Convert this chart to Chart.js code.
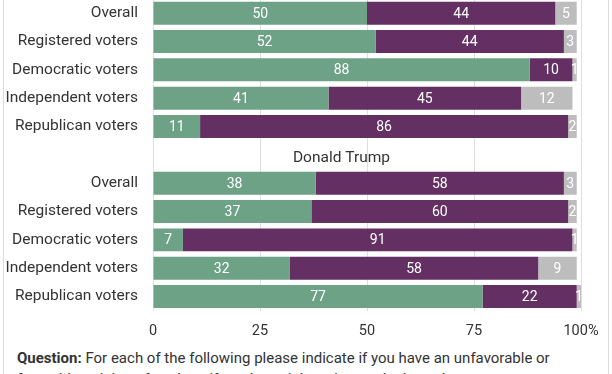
<!DOCTYPE html>
<html><head><meta charset="utf-8">
<script src="https://cdn.jsdelivr.net/npm/chart.js@4"></script>
<style>
html,body{margin:0;padding:0;width:612px;height:374px;overflow:hidden;background:#fff;font-family:Roboto,sans-serif;}
#card{position:absolute;left:3px;top:-20px;width:604px;height:420px;border-left:1px solid #ddd;border-right:1px solid #ddd;}
#wrap{position:absolute;left:0;top:-1px;width:612px;height:341px;}
#q{position:absolute;left:17px;top:348px;width:590px;font-size:15px;line-height:21px;color:#333;white-space:nowrap;}
</style></head>
<body>
<div id="card"></div>
<div id="wrap"><canvas id="c"></canvas></div>
<div id="q"><b>Question:</b> For each of the following please indicate if you have an unfavorable or<br>favorable opinion of each, or if you haven't heard enough about them to say.</div>
<script>
const categories = ['Overall','Registered voters','Democratic voters','Independent voters','Republican voters','','Overall','Registered voters','Democratic voters','Independent voters','Republican voters'];
const favorable   = [50,52,88,41,11,null,38,37,7,32,77];
const unfavorable = [44,44,10,45,86,null,58,60,91,58,22];
const unsure      = [5,3,1,12,2,null,3,2,1,9,1];
const xTicks = [0,25,50,75,100];
const sectionTitle = 'Donald Trump';

const FONT = 'Roboto, sans-serif';

const labelPlugin = {
  id:'vals',
  afterDatasetsDraw(chart){
    const ctx = chart.ctx;
    ctx.save();
    ctx.font = '14px ' + FONT;
    ctx.fillStyle = '#ffffff';
    ctx.textAlign = 'center';
    ctx.textBaseline = 'middle';
    chart.data.datasets.forEach((ds,di)=>{
      const meta = chart.getDatasetMeta(di);
      meta.data.forEach((el,i)=>{
        const v = ds.data[i];
        if (v === null || v === undefined) return;
        ctx.fillText(String(v), (el.x + el.base)/2, el.y + 1);
      });
    });
    const yScale = chart.scales.y;
    const idx = categories.indexOf('');
    const y = yScale.getPixelForValue(idx);
    ctx.font = '15.5px ' + FONT;
    ctx.fillStyle = '#333';
    ctx.fillText(sectionTitle, 341.5, y + 3);
    ctx.restore();
  }
};

new Chart(document.getElementById('c'), {
  type:'bar',
  data:{
    labels: categories,
    datasets:[
      {label:'Favorable', data:favorable, backgroundColor:'#6da287'},
      {label:'Unfavorable', data:unfavorable, backgroundColor:'#642f63'},
      {label:"Don't know", data:unsure, backgroundColor:'#bdbdbd'}
    ]
  },
  options:{
    indexAxis:'y',
    responsive:true,
    maintainAspectRatio:false,
    animation:false,
    layout:{padding:{top:0,right:31,left:0,bottom:0}},
    datasets:{bar:{barPercentage:0.81,categoryPercentage:1,borderWidth:0}},
    plugins:{legend:{display:false},tooltip:{enabled:false}},
    scales:{
      x:{
        stacked:true, min:0, max:100,
        afterBuildTicks(s){ s.ticks = xTicks.map(v=>({value:v})); },
        ticks:{color:'#333', font:{family:FONT,size:14.5}, padding:12,
          callback:(v)=> v===100 ? '100%' : String(v)},
        grid:{color:'#dedede', drawTicks:false},
        border:{display:false},
        afterFit(s){ s.height = 29.3; s.paddingLeft = 0; s.paddingRight = 0; }
      },
      y:{
        stacked:true,
        grid:{display:false, drawTicks:false},
        border:{display:false},
        ticks:{color:'#333', font:{family:FONT,size:15.5}, padding:15, autoSkip:false},
        afterFit(s){ s.width = 153; s.paddingTop = 0; s.paddingBottom = 0; }
      }
    }
  },
  plugins:[labelPlugin]
});
</script>
</body></html>
